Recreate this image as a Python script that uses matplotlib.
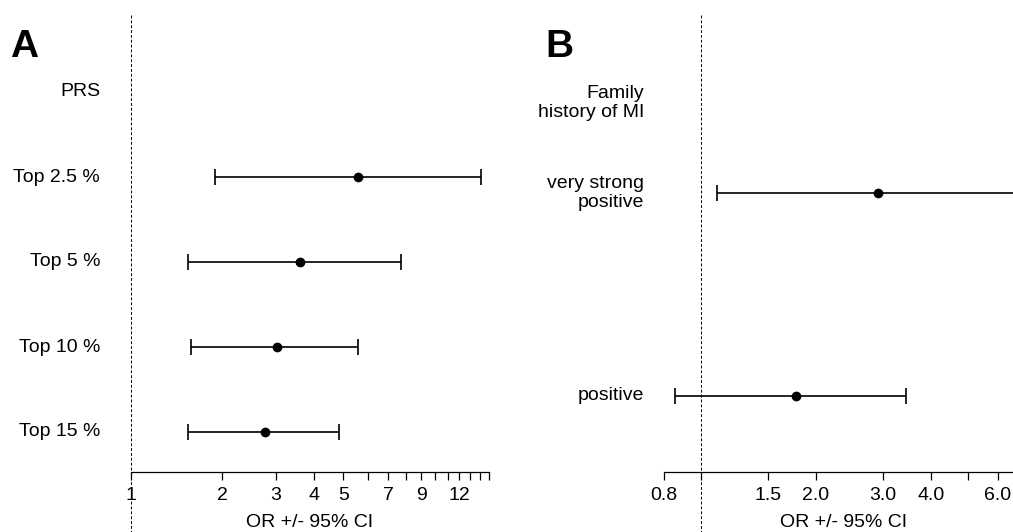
import numpy as np
import matplotlib.pyplot as plt
from matplotlib.transforms import blended_transform_factory

plt.rcParams['font.family'] = ['Liberation Sans', 'DejaVu Sans']

# ------------------------------------------------------------
# Data
# ------------------------------------------------------------

# Panel A: polygenic risk score
prs_labels = ["Top 2.5 %", "Top 5 %", "Top 10 %", "Top 15 %"]
prs_or = [5.57, 3.60, 3.02, 2.76]
prs_lo = [1.89, 1.54, 1.58, 1.54]
prs_hi = [14.2, 7.73, 5.58, 4.83]

a_ticks = list(range(1, 16))
a_ticklabels = ["1", "2", "3", "4", "5", "", "7", "", "9", "", "", "12", "", "", ""]

# Panel B: family history of MI
fh_labels = ["very strong\npositive", "positive"]
fh_or = [2.90, 1.77]
fh_lo = [1.10, 0.855]
fh_hi = [8.6, 3.44]

b_ticks = [0.8, 1.0, 1.5, 2.0, 3.0, 4.0, 5.0, 6.0, 7.0]
b_ticklabels = ["0.8", "", "1.5", "2.0", "3.0", "4.0", "", "6.0", ""]

FS = 14
W, H = 1013, 532

# ------------------------------------------------------------
# Figure
# ------------------------------------------------------------

fig = plt.figure(figsize=(W / 100, H / 100), dpi=100)

bottom = (H - 472) / H
height = (472 - 15) / H

axA = fig.add_axes([130.7 / W, bottom, 358.0 / W, height])
axB = fig.add_axes([664.0 / W, bottom, 359.6 / W, height])


def style_axis(ax, ticks, labels, xlim):
    ax.set_xscale('log')
    ax.set_xlim(*xlim)
    ax.set_xticks(ticks)
    ax.set_xticklabels(labels)
    ax.xaxis.set_minor_locator(plt.NullLocator())
    ax.tick_params(axis='x', length=5.8, width=0.9, labelsize=FS, pad=5)
    ax.set_yticks([])
    for s in ['left', 'right', 'top']:
        ax.spines[s].set_visible(False)
    ax.spines['bottom'].set_linewidth(0.9)
    ax.set_xlabel("OR +/- 95% CI", fontsize=FS, labelpad=7)
    ax.plot([1, 1], [1.0, -0.25], transform=ax.get_xaxis_transform(),
            color='black', lw=0.7, ls=(0, (3, 2)), clip_on=False)


def draw_rows(ax, y, est, lo, hi):
    est = np.asarray(est)
    err = [est - np.asarray(lo), np.asarray(hi) - est]
    ax.errorbar(est, y, xerr=err, fmt='o', color='black', ms=6,
                capsize=5.8, elinewidth=1.2, capthick=1.2)


# Panel A
yA = [4, 3, 2, 1]
style_axis(axA, a_ticks, a_ticklabels, (1, 15))
axA.set_ylim(1 - 40 / 85, 1 + (432 - 15) / 85)
draw_rows(axA, yA, prs_or, prs_lo, prs_hi)

trA = blended_transform_factory(fig.transFigure, axA.transData)
axA.text(100 / W, 5, "PRS", transform=trA, ha='right', va='center', fontsize=FS)
for lab, y in zip(prs_labels, yA):
    axA.text(100 / W, y, lab, transform=trA, ha='right', va='center', fontsize=FS)

# Panel B
yB = [2, 1]
style_axis(axB, b_ticks, b_ticklabels, (0.8, 7.0))
axB.set_ylim(1 - 76 / 203, 2 + (193 - 15) / 203)
draw_rows(axB, yB, fh_or, fh_lo, fh_hi)

trB = blended_transform_factory(fig.transFigure, axB.transData)
axB.text(644 / W, 2 + 90 / 203, "Family\nhistory of MI", transform=trB,
         ha='right', va='center', fontsize=FS, linespacing=1.15)
for lab, y in zip(fh_labels, yB):
    axB.text(644 / W, y, lab, transform=trB, ha='right', va='center',
             fontsize=FS, linespacing=1.15)

# Panel letters
fig.text(10 / W, (H - 57) / H, "A", fontsize=28, fontweight='bold', va='baseline')
fig.text(545 / W, (H - 57) / H, "B", fontsize=28, fontweight='bold', va='baseline')

fig.savefig("out.png", dpi=100)
